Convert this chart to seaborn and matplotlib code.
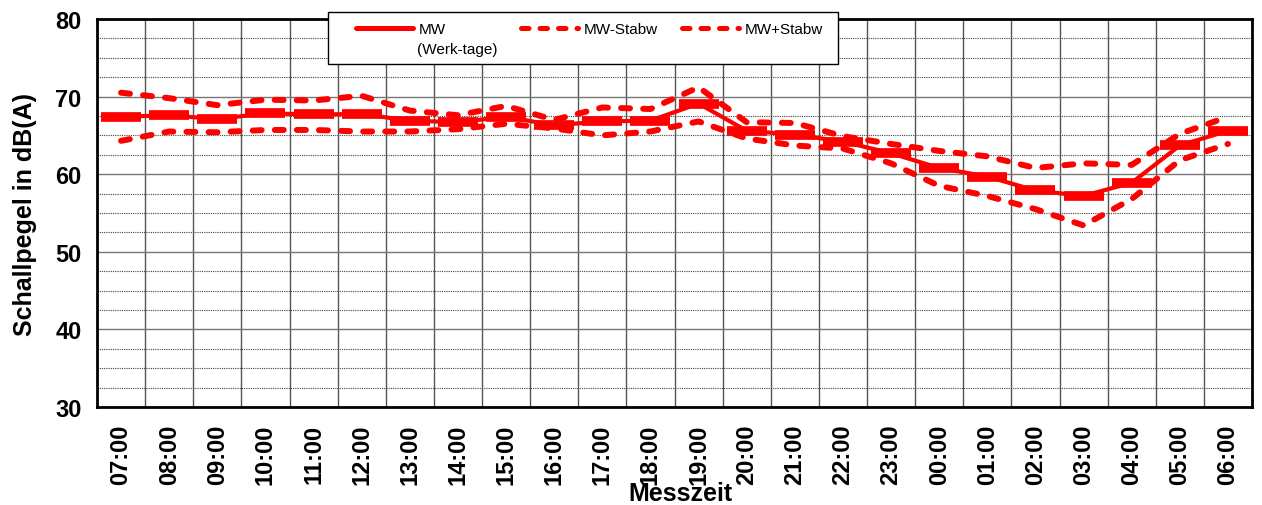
import numpy as np
import pandas as pd
import matplotlib
matplotlib.use("Agg")
import matplotlib.pyplot as plt
from matplotlib.lines import Line2D
from matplotlib.patches import Rectangle
from matplotlib.ticker import MultipleLocator, FixedLocator
import seaborn as sns

# values
zeiten = ['07:00', '08:00', '09:00', '10:00', '11:00', '12:00', '13:00', '14:00',
          '15:00', '16:00', '17:00', '18:00', '19:00', '20:00', '21:00', '22:00',
          '23:00', '00:00', '01:00', '02:00', '03:00', '04:00', '05:00', '06:00']
mw = [67.4, 67.6, 67.1, 67.85, 67.7, 67.75, 66.9, 66.7, 67.4, 66.3, 66.8, 66.9,
      69.1, 65.6, 65.1, 64.2, 62.7, 60.8, 59.7, 57.9, 57.2, 58.9, 63.7, 65.6]
mw_minus = [64.3, 65.5, 65.4, 65.7, 65.7, 65.5, 65.5, 65.8, 66.5, 65.9, 65.0, 65.5,
            66.8, 64.6, 63.7, 63.3, 61.4, 58.5, 57.2, 55.5, 53.4, 56.8, 61.8, 63.9]
mw_plus = [70.5, 69.8, 68.9, 69.6, 69.5, 70.1, 68.2, 67.6, 68.8, 67.0, 68.6, 68.4,
           71.2, 66.7, 66.6, 64.9, 63.9, 63.0, 62.3, 60.8, 61.4, 61.2, 65.2, 67.4]

df = pd.DataFrame({'pos': np.arange(len(zeiten)), 'zeit': zeiten,
                   'mw': mw, 'minus': mw_minus, 'plus': mw_plus})

sns.set_style('white')
plt.rcParams['font.family'] = ['Liberation Sans', 'DejaVu Sans']
plt.rcParams['text.color'] = 'black'
plt.rcParams['axes.labelcolor'] = 'black'
plt.rcParams['xtick.color'] = 'black'
plt.rcParams['ytick.color'] = 'black'

W, H = 1262, 506
fig = plt.figure(figsize=(W / 100, H / 100), dpi=100)
ax = fig.add_axes([97 / W, 98 / H, 1155 / W, 388 / H])

red = '#FF0000'
dash = (0, (1.5, 2.2))

sns.lineplot(data=df, x='pos', y='mw', ax=ax, color=red, linewidth=3,
             marker='_', markersize=29, markeredgewidth=7, markeredgecolor=red)
sns.lineplot(data=df, x='pos', y='minus', ax=ax, color=red, linewidth=4.3,
             linestyle=dash, dash_capstyle='round')
sns.lineplot(data=df, x='pos', y='plus', ax=ax, color=red, linewidth=4.3,
             linestyle=dash, dash_capstyle='round')

# axes, grid
ax.set_xlim(-0.5, len(zeiten) - 0.5)
ax.set_ylim(30, 80)
ax.set_xticks(df['pos'])
ax.set_xticklabels(zeiten, rotation=90, fontweight='bold', fontsize=17)
ax.xaxis.set_minor_locator(FixedLocator(np.arange(-0.5, len(zeiten), 1)))
ax.yaxis.set_major_locator(MultipleLocator(10))
ax.yaxis.set_minor_locator(MultipleLocator(2.5))
ax.tick_params(axis='x', which='major', length=0, pad=12)
ax.tick_params(axis='x', which='minor', length=5, width=1, color='#666666', direction='out')
ax.tick_params(axis='y', which='major', length=7, width=1, color='#666666',
               direction='out', pad=4, labelsize=17)
ax.tick_params(axis='y', which='minor', length=0)
for lab in ax.get_yticklabels():
    lab.set_fontweight('bold')

ax.grid(False)
ax.grid(axis='x', which='minor', color='#555555', linewidth=1, linestyle='-')
ax.grid(axis='y', which='major', color='#777777', linewidth=1, linestyle='-')
ax.grid(axis='y', which='minor', color='#444444', linewidth=0.8, linestyle=(0, (1, 1)))
ax.set_axisbelow(True)

for s in ax.spines.values():
    s.set_color('black')
    s.set_linewidth(2)

ax.set_ylabel('Schallpegel in dB(A)', fontsize=18, fontweight='bold')
ax.yaxis.set_label_coords(-0.052, 0.5)
ax.set_xlabel('Messzeit', fontsize=18, fontweight='bold')
ax.xaxis.set_label_coords(0.505, -0.19)

# legend box (white frame over the top of the plot)
fig.add_artist(Rectangle((328 / W, 1 - 65 / H), 510 / W, 52 / H,
                         transform=fig.transFigure, facecolor='white',
                         edgecolor='black', linewidth=1, zorder=4))

leg_items = [
    ('MW', Line2D([], [], color=red, linewidth=3.6), 356),
    ('MW-Stabw', Line2D([], [], color=red, linewidth=3.6, linestyle=dash,
                        dash_capstyle='round'), 521),
    ('MW+Stabw', Line2D([], [], color=red, linewidth=3.6, linestyle=dash,
                        dash_capstyle='round'), 682),
]
for text, handle, xpix in leg_items:
    lg = fig.legend([handle], [text], loc='center left',
                    bbox_to_anchor=(xpix / W, 1 - 30 / H), fontsize=11,
                    frameon=False, handlelength=3.7, handletextpad=0.4,
                    borderpad=0, borderaxespad=0)
    lg.set_zorder(5)
fig.text(417 / W, 1 - 50 / H, '(Werk-tage)', fontsize=11, va='center',
         ha='left', zorder=6)

fig.savefig('out.png', dpi=100)
